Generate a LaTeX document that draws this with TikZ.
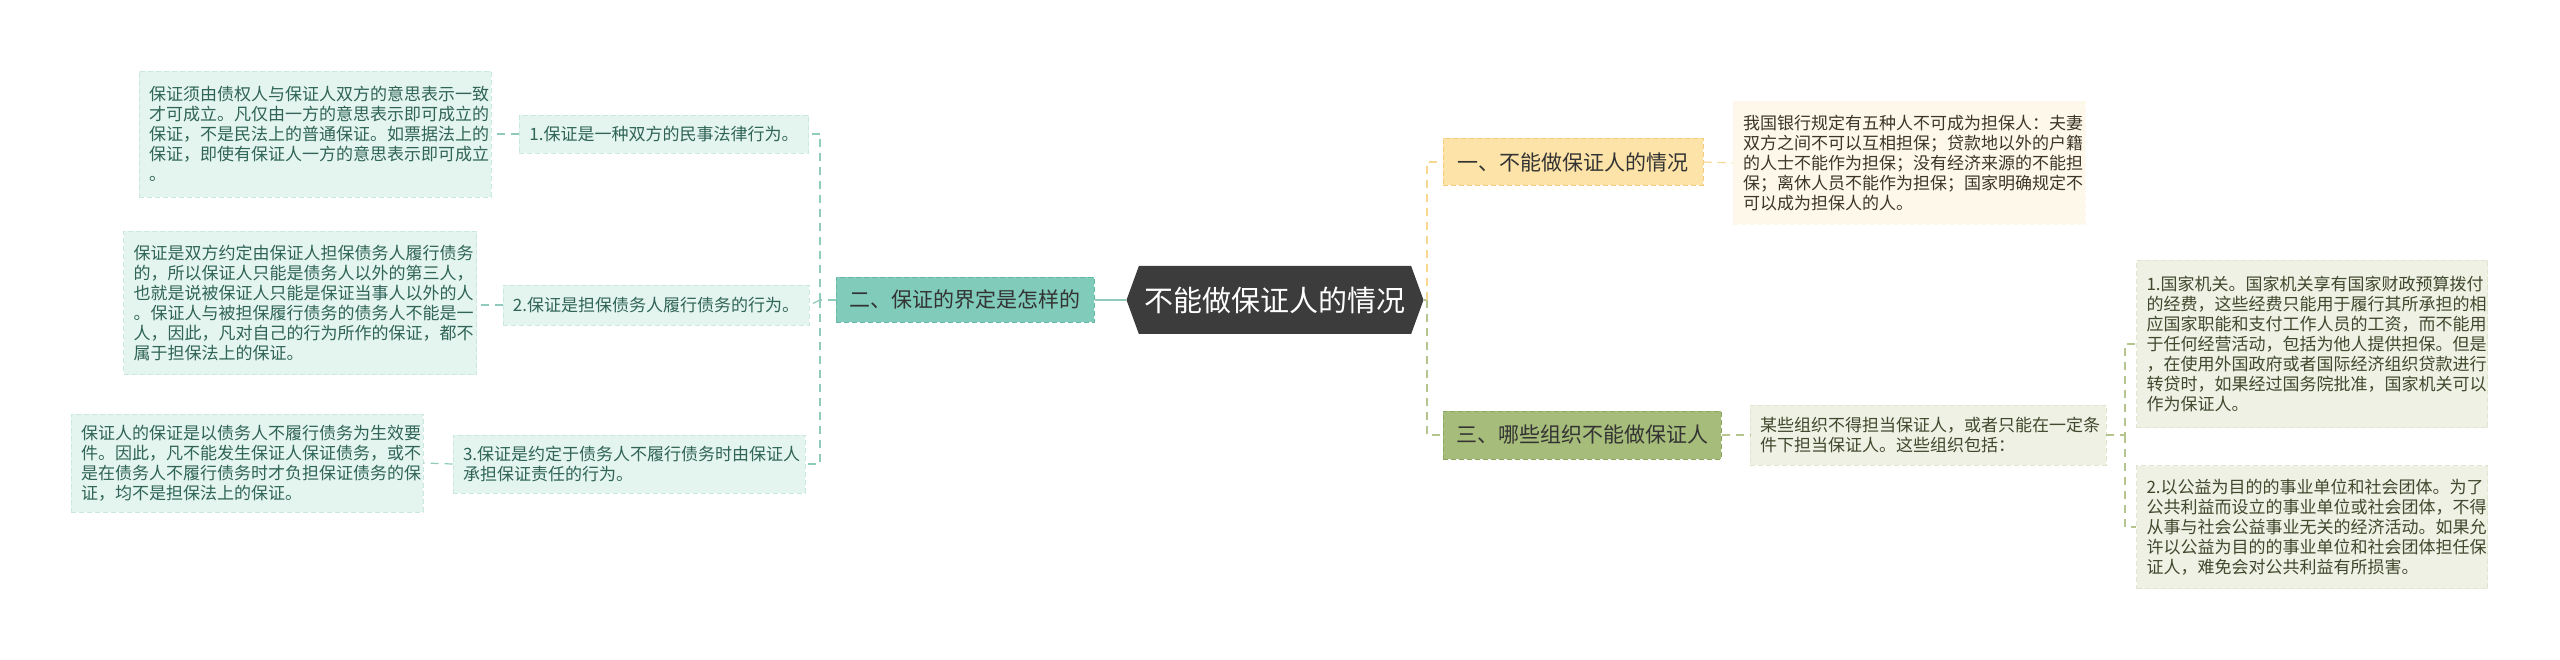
\documentclass[tikz,border=0pt]{standalone}
\usepackage{fontspec}
\setmainfont{Noto Sans CJK SC}
\usetikzlibrary{shapes.symbols}

\definecolor{rootgray}{HTML}{3C3C3C}
\definecolor{tealmid}{HTML}{80CBBA}
\definecolor{tealedge}{HTML}{62B8A5}
\definecolor{teallight}{HTML}{E4F4EF}
\definecolor{tealline}{HTML}{8FCABB}
\definecolor{tealtext}{HTML}{2F6456}
\definecolor{ambermid}{HTML}{FDE3A8}
\definecolor{amberedge}{HTML}{F4CD7C}
\definecolor{amberlight}{HTML}{FDF8EA}
\definecolor{amberline}{HTML}{F6D98F}
\definecolor{ambertext}{HTML}{3E3528}
\definecolor{olivemid}{HTML}{A6BC7A}
\definecolor{oliveedge}{HTML}{8CA660}
\definecolor{olivelight}{HTML}{EEF1E4}
\definecolor{oliveline}{HTML}{B4C58E}
\definecolor{olivetext}{HTML}{40482D}

\begin{document}
\begin{tikzpicture}[x=1pt, y=-1pt,
    rootnode/.style={signal, signal to=west and east, signal pointer angle=140,
      fill=rootgray, text=white, font=\fontsize{29}{33}\selectfont,
      minimum width=297pt, minimum height=68pt, inner sep=0pt},
    topic/.style={draw, dash pattern=on 5pt off 3pt, line width=1pt, inner sep=0pt,
      font=\fontsize{21}{25}\selectfont},
    leaf/.style={draw, dash pattern=on 5pt off 3pt, line width=0.7pt, inner xsep=10pt,
      inner ysep=0pt, align=left, font=\fontsize{17}{20}\selectfont},
    tealleaf/.style={leaf, fill=teallight, draw=teallight!80!tealedge, text=tealtext},
    amberleaf/.style={leaf, fill=amberlight, draw=amberlight, text=ambertext},
    oliveleaf/.style={leaf, fill=olivelight, draw=olivelight!85!oliveedge, text=olivetext},
    tealconn/.style={draw=tealline, dash pattern=on 8pt off 6pt, line width=1.2pt},
    amberconn/.style={draw=amberline, dash pattern=on 8pt off 6pt, line width=1.2pt},
    oliveconn/.style={draw=oliveline, dash pattern=on 8pt off 6pt, line width=1.2pt}]

  \useasboundingbox (0,0) rectangle (2560,660);

  % centre
  \node[rootnode] (root) at (1275,300) {不能做保证人的情况};

  % left side
  \node[topic, fill=tealmid, draw=tealedge, text=black!80,
    minimum width=258pt, minimum height=45pt] (def) at (965,300) {二、保证的界定是怎样的};

  \node[tealleaf, minimum width=282pt, minimum height=38pt] (item1) at (664,134)
    {1.保证是一种双方的民事法律行为。};
  \node[tealleaf, minimum width=299pt, minimum height=40pt] (item2) at (656,305)
    {2.保证是担保债务人履行债务的行为。};
  \node[tealleaf, text width=332pt, minimum height=58pt] (item3) at (629,464)
    {3.保证是约定于债务人不履行债务时由保证人\\承担保证责任的行为。};

  \node[tealleaf, text width=332pt, minimum height=126pt] (note1) at (315,134)
    {保证须由债权人与保证人双方的意思表示一致\\才可成立。凡仅由一方的意思表示即可成立的\\保证，不是民法上的普通保证。如票据法上的\\保证，即使有保证人一方的意思表示即可成立\\。};
  \node[tealleaf, text width=333pt, minimum height=143pt] (note2) at (300,303)
    {保证是双方约定由保证人担保债务人履行债务\\的，所以保证人只能是债务人以外的第三人，\\也就是说被保证人只能是保证当事人以外的人\\。保证人与被担保履行债务的债务人不能是一\\人，因此，凡对自己的行为所作的保证，都不\\属于担保法上的保证。};
  \node[tealleaf, text width=332pt, minimum height=98pt] (note3) at (247,463)
    {保证人的保证是以债务人不履行债务为生效要\\件。因此，凡不能发生保证人保证债务，或不\\是在债务人不履行债务时才负担保证债务的保\\证，均不是担保法上的保证。};

  % right side
  \node[topic, fill=ambermid, draw=amberedge, text=black!80,
    minimum width=260pt, minimum height=47pt] (cases) at (1573,162) {一、不能做保证人的情况};
  \node[topic, fill=olivemid, draw=oliveedge, text=black!80,
    minimum width=278pt, minimum height=48pt] (orgs) at (1582,435) {三、哪些组织不能做保证人};

  \node[amberleaf, text width=332pt, minimum height=123pt] (bank) at (1909,163)
    {我国银行规定有五种人不可成为担保人：夫妻\\双方之间不可以互相担保；贷款地以外的户籍\\的人士不能作为担保；没有经济来源的不能担\\保；离休人员不能作为担保；国家明确规定不\\可以成为担保人的人。};
  \node[oliveleaf, text width=336pt, minimum height=60pt] (some) at (1928,435)
    {某些组织不得担当保证人，或者只能在一定条\\件下担当保证人。这些组织包括：};
  \node[oliveleaf, text width=331pt, minimum height=167pt] (state) at (2312,344)
    {1.国家机关。国家机关享有国家财政预算拨付\\的经费，这些经费只能用于履行其所承担的相\\应国家职能和支付工作人员的工资，而不能用\\于任何经营活动，包括为他人提供担保。但是\\，在使用外国政府或者国际经济组织贷款进行\\转贷时，如果经过国务院批准，国家机关可以\\作为保证人。};
  \node[oliveleaf, text width=331pt, minimum height=123pt] (public) at (2312,527)
    {2.以公益为目的的事业单位和社会团体。为了\\公共利益而设立的事业单位或社会团体，不得\\从事与社会公益事业无关的经济活动。如果允\\许以公益为目的的事业单位和社会团体担任保\\证人，难免会对公共利益有所损害。};

  % junctions
  \coordinate (lj) at (820,300);
  \coordinate (rj) at (1427,300);
  \coordinate (oj) at (2125,435);

  % connectors
  \draw[draw=tealline, line width=1.5pt] (root.west) -- (def.east);
  \draw[tealconn] (def.west) -- (lj) |- (item1.east);
  \draw[tealconn] (lj) -- (item2.east);
  \draw[tealconn] (lj) |- (item3.east);
  \draw[tealconn] (item1.west) -- (note1.east);
  \draw[tealconn] (item2.west) -- (item2.west -| note2.east);
  \draw[tealconn] (item3.west) -- (note3.east);

  \draw[draw=oliveline, line width=1.5pt] (root.east) -- (rj);
  \draw[amberconn] (rj) |- (cases.west);
  \draw[oliveconn] (rj) |- (orgs.west);
  \draw[amberconn] (cases.east) -- (bank.west);
  \draw[oliveconn] (orgs.east) -- (some.west);
  \draw[oliveconn] (some.east) -- (oj) |- (state.west);
  \draw[oliveconn] (oj) |- (public.west);
\end{tikzpicture}
\end{document}
